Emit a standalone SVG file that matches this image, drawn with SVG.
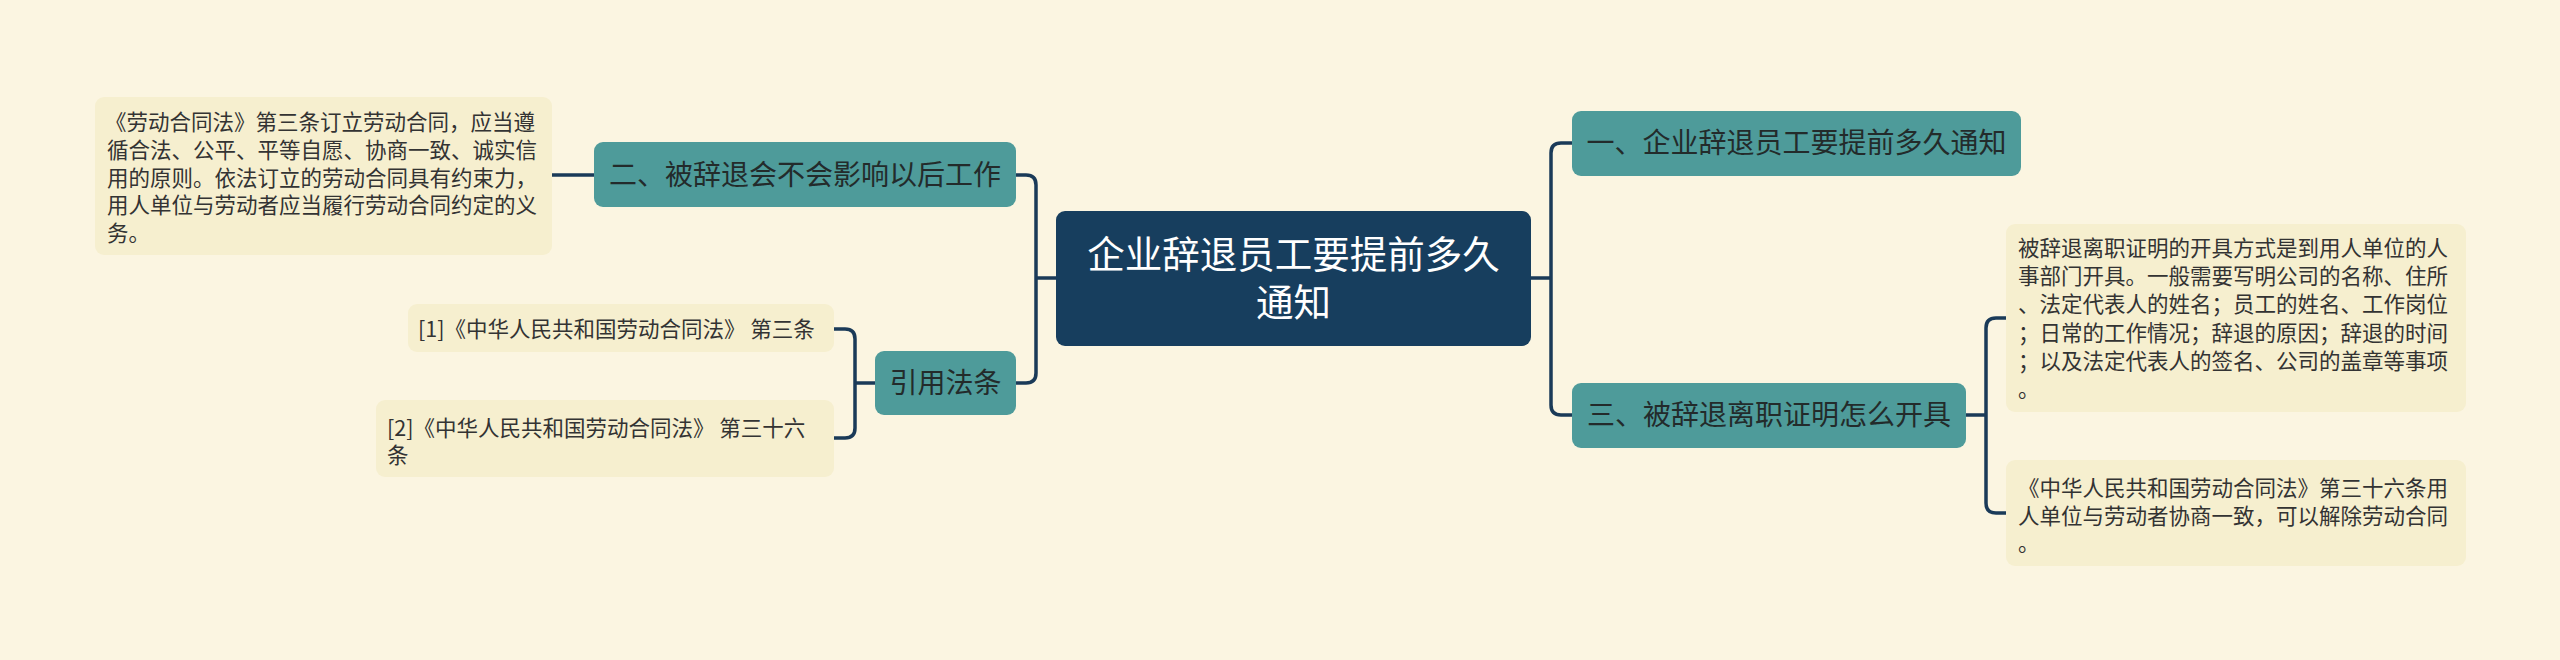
<svg xmlns="http://www.w3.org/2000/svg" width="2560" height="660" viewBox="0 0 2560 660">
<style>
.leaf{fill:#f6efcf;}
.node{fill:#4e9b9a;}
.center{fill:#173e5e;}
.t{font-family:"Noto Sans CJK SC","Noto Sans",sans-serif;}
.nt{font-size:28px;fill:#232b2b;text-anchor:middle;}
.lt{font-size:21.5px;fill:#333333;}
.ct{font-size:37.5px;fill:#ffffff;text-anchor:middle;}
.conn{fill:none;stroke:#1a3a58;stroke-width:3.5;}
</style>
<rect width="2560" height="660" fill="#fbf5e1"/>
<g id="connectors">
<path class="conn" d="M1056,278 H1036 M1016,175 H1026 Q1036,175 1036,185 V373 Q1036,383 1026,383 H1016"/>
<path class="conn" d="M1531,278 H1551 M1572,143 H1561 Q1551,143 1551,153 V405 Q1551,415 1561,415 H1572"/>
<path class="conn" d="M552,175 H594"/>
<path class="conn" d="M875,383 H855 M834,329 H845 Q855,329 855,339 V428 Q855,438 845,438 H834"/>
<path class="conn" d="M1966,415 H1986 M2006,318 H1996 Q1986,318 1986,328 V503 Q1986,513 1996,513 H2006"/>
</g>
<g id="center">
<rect class="center" x="1056" y="211" width="475" height="135" rx="9"/>
<text class="t ct" x="1293.5" y="268">企业辞退员工要提前多久</text>
<text class="t ct" x="1293.5" y="316">通知</text>
</g>
<g id="node-er">
<rect class="node" x="594" y="142" width="422" height="65" rx="9"/>
<text class="t nt" x="805" y="185">二、被辞退会不会影响以后工作</text>
</g>
<g id="leaf-er">
<rect class="leaf" x="95" y="97" width="457" height="158" rx="9"/>
<text class="t lt" x="105" y="130">《劳动合同法》第三条订立劳动合同，应当遵</text>
<text class="t lt" x="107" y="158">循合法、公平、平等自愿、协商一致、诚实信</text>
<text class="t lt" x="107" y="186">用的原则。依法订立的劳动合同具有约束力，</text>
<text class="t lt" x="107" y="213">用人单位与劳动者应当履行劳动合同约定的义</text>
<text class="t lt" x="107" y="241">务。</text>
</g>
<g id="node-yinyong">
<rect class="node" x="875" y="351" width="141" height="64" rx="9"/>
<text class="t nt" x="945.5" y="393">引用法条</text>
</g>
<g id="leaf-ref1">
<rect class="leaf" x="408" y="304" width="426" height="48" rx="9"/>
<text class="t lt" x="418" y="337">[1]《中华人民共和国劳动合同法》 第三条</text>
</g>
<g id="leaf-ref2">
<rect class="leaf" x="376" y="400" width="458" height="77" rx="9"/>
<text class="t lt" x="387" y="436">[2]《中华人民共和国劳动合同法》 第三十六</text>
<text class="t lt" x="387" y="463">条</text>
</g>
<g id="node-yi">
<rect class="node" x="1572" y="111" width="449" height="65" rx="9"/>
<text class="t nt" x="1796.5" y="153">一、企业辞退员工要提前多久通知</text>
</g>
<g id="node-san">
<rect class="node" x="1572" y="383" width="394" height="65" rx="9"/>
<text class="t nt" x="1769" y="425">三、被辞退离职证明怎么开具</text>
</g>
<g id="leaf-san1">
<rect class="leaf" x="2006" y="224" width="460" height="188" rx="9"/>
<text class="t lt" x="2018" y="256">被辞退离职证明的开具方式是到用人单位的人</text>
<text class="t lt" x="2018" y="284">事部门开具。一般需要写明公司的名称、住所</text>
<text class="t lt" x="2018" y="312">、法定代表人的姓名；员工的姓名、工作岗位</text>
<text class="t lt" x="2018" y="341">；日常的工作情况；辞退的原因；辞退的时间</text>
<text class="t lt" x="2018" y="369">；以及法定代表人的签名、公司的盖章等事项</text>
<text class="t lt" x="2018" y="397">。</text>
</g>
<g id="leaf-san2">
<rect class="leaf" x="2006" y="460" width="460" height="106" rx="9"/>
<text class="t lt" x="2018" y="496">《中华人民共和国劳动合同法》第三十六条用</text>
<text class="t lt" x="2018" y="524">人单位与劳动者协商一致，可以解除劳动合同</text>
<text class="t lt" x="2018" y="551">。</text>
</g>
</svg>
